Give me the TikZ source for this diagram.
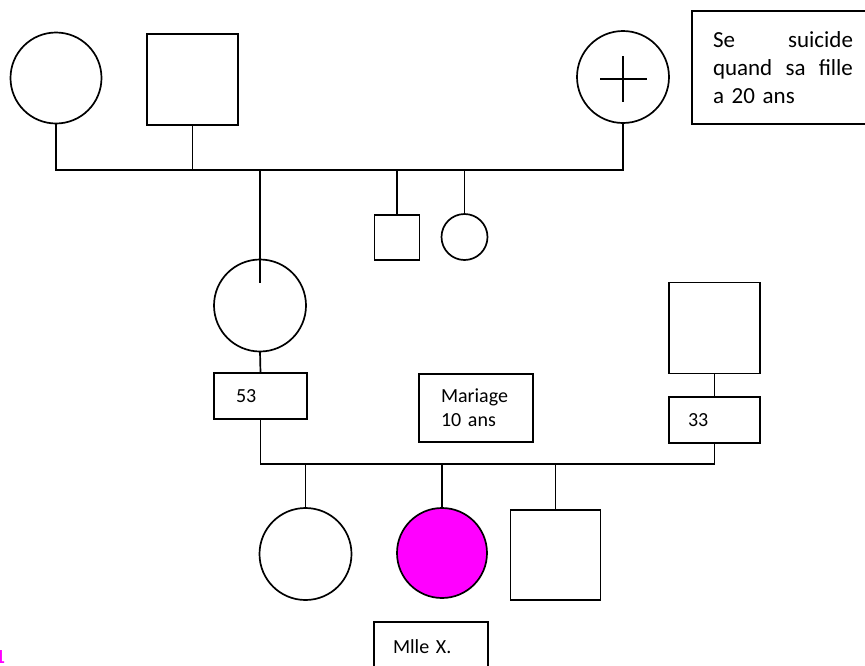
\documentclass[tikz,border=0pt]{standalone}
\usepackage{fontspec}
\setmainfont{Carlito}
\definecolor{affected}{RGB}{255,0,255}
\begin{document}
\begin{tikzpicture}[x=1pt,y=-1pt,
  line width=1.7pt,
  person/.style={draw, line width=1.7pt, inner sep=0pt, outer sep=0pt},
  female/.style={person, circle, minimum size=#1},
  female/.default=91,
  male/.style={person, rectangle, minimum size=#1},
  male/.default=91,
  infobox/.style={draw, line width=1.7pt, rectangle, outer sep=0pt, inner ysep=0pt,
    align=left, font=\fontsize{20}{24}\selectfont},
  notefont/.style={font=\fontsize{23}{28}\selectfont}
]
\useasboundingbox (0,0) rectangle (865,665);

% first generation
\node[female] (gm) at (56,78) {};
\node[male] (gf) at (192.5,79.5) {};
\node[female=92] (xc) at (623,77) {};
\draw (xc.center) +(-23,2) -- +(24,2);
\draw (xc.center) +(0,-21) -- +(0,25);
\node[infobox, notefont, anchor=north west, text width=140, inner xsep=21,
      minimum height=113] (note) at (692,11)
  {Se\hfill suicide\\quand\hfill sa\hfill fille\\a 20 ans};

% first sibship line
\coordinate (bar1) at (0,170);
\draw (gm.south) -- (gm.south |- bar1) -- (bar1 -| xc.south) -- (xc.south);
\draw (gf.south) -- (gf.south |- bar1);

% second generation
\node[female=92] (m) at (260,305.5) {};
\node[male=45] (s1) at (397,237.5) {};
\node[female=46] (s2) at (464.5,237) {};
\draw (m.north |- bar1) -- ([yshift=-23pt]m.north);
\draw (s1.north) -- (s1.north |- bar1);
\draw (s2.north) -- (s2.north |- bar1);

\node[infobox, minimum height=46, text width=49, inner xsep=22] (b53) at (260.5,396) {53};
\draw (m.south) -- (b53.north);

\node[male] (f) at (714.5,328) {};
\node[infobox, minimum height=46, text width=53, inner xsep=19] (b33) at (714.5,420) {33};
\draw (f.south) -- (b33.north);

\node[infobox, minimum height=68, text width=70, inner xsep=22] (mar) at (476,408)
  {Mariage\\10 ans};

% second sibship line
\coordinate (bar2) at (0,464);
\draw (b53.south) -- (b53.south |- bar2) -- (bar2 -| b33.south) -- (b33.south);

% third generation
\node[female=92] (c1) at (305.5,554) {};
\node[female=90, fill=affected] (c2) at (442,553) {};
\node[male=90] (c3) at (555.5,555) {};
\draw (c1.north) -- (c1.north |- bar2);
\draw (c2.north) -- (c2.north |- bar2);
\draw (c3.north) -- (c3.north |- bar2);

\node[infobox, anchor=north west, text width=76, inner xsep=19, inner ysep=17,
      text height=14pt, text depth=45pt] (mlle) at (374,622) {Mlle X.};

\node[anchor=base west, inner sep=0pt, text=affected,
      font=\bfseries\fontsize{20}{24}\selectfont] (num) at (-6,663) {1};
\end{tikzpicture}
\end{document}
